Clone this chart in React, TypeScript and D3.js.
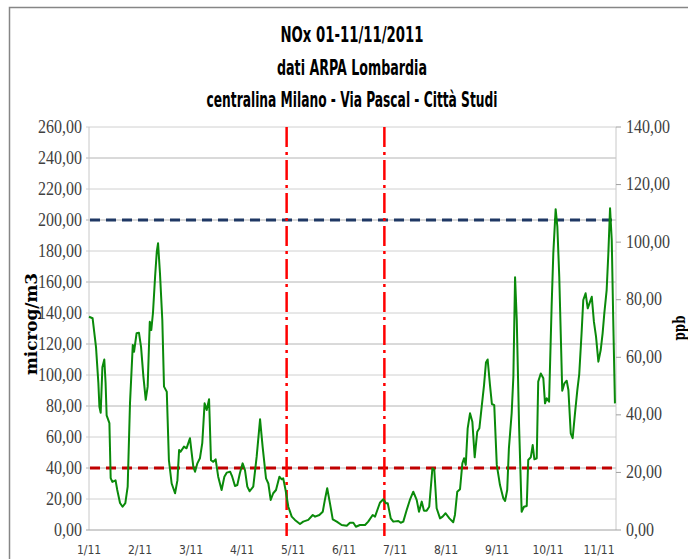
import React, { useEffect, useRef } from 'react';
import * as d3 from 'd3';

// hours from 01/11 00:00, NOx in microg/m3
const hours = [
  0, 1.7, 3.3, 4.4, 4.9, 5.5, 6.3, 7.2, 7.8, 8.3, 9.6, 10.2, 11, 12.5, 13.3, 14.6, 15.8, 17.1, 18.2, 19.3,
  20.6, 21.2, 22.4, 23.5, 24.5, 25.6, 26.7, 27.6, 28.6, 29.3, 30.1, 31.1, 31.9, 32.5, 33.4, 34.5, 35.3, 36.6, 37.6, 38.9,
  40.5, 41.6, 42.4, 43.1, 44.7, 45.9, 47.5, 49.1, 49.9, 51, 52.2, 53.3, 54.4, 55.4, 56.5, 57.4, 58.5, 59.6, 60.8, 62.4,
  63.7, 64.8, 66.4, 67.4, 68.7, 69.8, 71, 72.3, 73.4, 74.5, 75.6, 77.3, 78.9, 80.5, 81.7, 83.3, 84.4, 85.5, 86.7, 88,
  89.6, 90.7, 91.4, 92.5, 93.8, 95.4, 96.9, 99.3, 100.8, 103.2, 105.3, 106.4, 108.4, 110, 111, 112.1, 113.4, 114.7, 116.6, 118.9,
  121.3, 122.8, 124.4, 125.6, 127.5, 129.9, 131.4, 133.5, 134.6, 135.7, 136.9, 138.5, 139.8, 140.6, 142, 143.2, 145.6, 146.7, 147.9, 149.5,
  151, 152.6, 154.2, 155.3, 156.6, 157.6, 158.9, 160.1, 161.6, 162.5, 163.6, 165.2, 166.4, 167.8, 169.6, 171.4, 172.2, 173.3, 174.6, 175.7,
  176.5, 177.3, 178.2, 179.3, 180.4, 181.5, 182.7, 183.7, 184.8, 185.9, 186.8, 187.6, 188.7, 189.6, 190.7, 191.9, 193.4, 195, 195.8, 196.8,
  197.6, 198.9, 199.7, 200.5, 201.3, 202.4, 203.6, 204.7, 206, 206.7, 207.9, 208.8, 209.6, 210.7, 211.4, 212.6, 213.8, 214.6, 215.4, 216.5,
  217.7, 218.5, 219.6, 220.4, 221.3, 222.7, 223.7, 224.8, 225.6, 226.7, 227.6, 228.7, 229.8, 230.7, 231.8, 232.6, 233.7, 234.7, 235.8, 236.6,
  237.6, 238.6, 239.7, 240.8, 241.7, 242.5, 243.6, 244.4, 245.2, 246, 246.7, 247.5,
];
const nox = [
  137.6, 136.6, 118, 95, 79.5, 75.6, 105, 110, 95, 74, 69, 33.5, 31, 32, 25.8, 17.4, 15, 17.4, 28, 82,
  119.4, 115, 127, 127.3, 118, 99, 84, 92.5, 134.4, 129, 140, 163.4, 179.6, 185, 165.6, 135.5, 92.5, 89.2, 45, 30,
  23.7, 32, 51.6, 50.5, 53.8, 52.7, 59.2, 40.8, 37.6, 43, 46.3, 56, 81.7, 77.4, 84.3, 45, 44, 45.6, 34.4, 25.8,
  34.4, 37, 37.6, 34.4, 28.4, 29, 36.6, 43, 38.7, 28, 25, 28, 47.3, 71.4, 53.8, 33.3, 30, 19.4, 23.7, 25.8,
  34.4, 32.7, 33.3, 25.8, 15, 8.6, 6.5, 3.9, 5.4, 6.5, 9.7, 8.6, 9.7, 11.8, 19.4, 26.9, 17.2, 6.9, 5.4, 3.2,
  2.8, 4.7, 4.7, 2.1, 3.2, 3.2, 5.4, 9.7, 8.6, 12.9, 17.6, 19.8, 17.2, 17.2, 7.5, 5.4, 5.8, 4.7, 5.4, 12.9,
  19.4, 24.7, 19.4, 11.8, 18.3, 12.5, 12.5, 15, 39.8, 38.7, 14, 7.5, 8.6, 10.8, 7.5, 5, 9.7, 24.7, 26.3, 43,
  46.3, 42, 65.6, 75.3, 69.9, 46.9, 63.4, 65.6, 79.6, 93.5, 108, 110, 93.5, 81.3, 80.6, 42, 29, 20.4, 18.7, 25.8,
  52.7, 75.3, 98.9, 163, 135.5, 66.7, 11.8, 15, 15.5, 45.2, 46.9, 54.8, 45.6, 46.3, 95.7, 101, 97.9, 81.7, 85, 82.8,
  144, 178.5, 207, 195.7, 163.4, 89.9, 94.6, 96.3, 90.3, 62.4, 59.2, 75.3, 90.3, 100.6, 126.9, 148.4, 152.7, 143, 147.3, 150.5,
  134.4, 124.7, 108.6, 116.1, 126.9, 139.8, 154.8, 178.5, 207.6, 187, 135.5, 81.7,
];

const dayLabels = ['1/11', '2/11', '3/11', '4/11', '5/11', '6/11', '7/11', '8/11', '9/11', '10/11', '11/11'];
const leftTicks = [0, 20, 40, 60, 80, 100, 120, 140, 160, 180, 200, 220, 240, 260];
const rightTicks = [0, 20, 40, 60, 80, 100, 120, 140];
const limits = [200, 40]; // microg/m3 thresholds
const markerHours = [93, 139];
const titleLines = ['NOx 01-11/11/2011', 'dati ARPA Lombardia', 'centralina Milano - Via Pascal - Città Studi'];

const W = 688;
const H = 559;
const serif = "'Liberation Serif', 'Times New Roman', serif";
const narrow = "'Liberation Sans Narrow', 'DejaVu Sans Condensed', 'Liberation Sans', sans-serif";

const App: React.FC = () => {
  const svgRef = useRef<SVGSVGElement>(null);

  useEffect(() => {
    if (!svgRef.current) return;
    const svg = d3.select(svgRef.current);
    svg.selectAll('*').remove();

    const x = d3.scaleLinear().domain([0, 248]).range([89, 616]);
    const y = d3.scaleLinear().domain([0, 260]).range([530, 127]);
    const y2 = d3.scaleLinear().domain([0, 140]).range([530, 127]);

    svg.append('rect').attr('width', W).attr('height', H).attr('fill', '#fff');
    // outer chart frame (continues past the right/bottom edge)
    svg.append('rect')
      .attr('x', 9.5).attr('y', 7.5).attr('width', 720).attr('height', 600)
      .attr('fill', 'none').attr('stroke', '#868686').attr('stroke-width', 1.5);

    // title
    const tw = [143, 150, 291];
    svg.selectAll('.title')
      .data(titleLines)
      .enter()
      .append('text')
      .attr('x', 352)
      .attr('y', (_, i) => 42 + i * 32.5)
      .attr('text-anchor', 'middle')
      .attr('font-family', narrow)
      .attr('font-weight', 'bold')
      .attr('font-size', 22)
      .attr('textLength', (_, i) => tw[i])
      .attr('lengthAdjust', 'spacingAndGlyphs')
      .attr('fill', '#000')
      .text(d => d);

    // gridlines
    svg.selectAll('.grid')
      .data(leftTicks.slice(1))
      .enter()
      .append('line')
      .attr('x1', 86).attr('x2', 616)
      .attr('y1', d => y(d)).attr('y2', d => y(d))
      .attr('stroke', (_, i) => (i % 2 ? '#b4b4b4' : '#d0d0d0'))
      .attr('stroke-width', 1);

    // axes lines
    svg.append('line').attr('x1', 89).attr('x2', 89).attr('y1', 127).attr('y2', 530)
      .attr('stroke', '#c8c8c8');
    svg.append('line').attr('x1', 616).attr('x2', 616).attr('y1', 127).attr('y2', 530)
      .attr('stroke', '#c8c8c8');
    svg.append('line').attr('x1', 86).attr('x2', 616).attr('y1', 530).attr('y2', 530)
      .attr('stroke', '#a0a0a0');

    // right axis ticks
    svg.selectAll('.rtick')
      .data(rightTicks)
      .enter()
      .append('line')
      .attr('x1', 616).attr('x2', 621)
      .attr('y1', d => y2(d)).attr('y2', d => y2(d))
      .attr('stroke', '#a0a0a0');

    const fmt = (v: number) => d3.format('.2f')(v).replace('.', ',');

    svg.selectAll('.lt')
      .data(leftTicks)
      .enter()
      .append('text')
      .attr('transform', d => `translate(82,${y(d) + 5.5}) scale(1,1.12)`)
      .attr('text-anchor', 'end')
      .attr('font-family', serif)
      .attr('font-size', 16)
      .attr('fill', '#404040')
      .text(d => fmt(d));

    svg.selectAll('.rt')
      .data(rightTicks)
      .enter()
      .append('text')
      .attr('transform', d => `translate(626,${y2(d) + 5.5}) scale(1,1.12)`)
      .attr('text-anchor', 'start')
      .attr('font-family', serif)
      .attr('font-size', 16)
      .attr('fill', '#404040')
      .text(d => fmt(d));

    svg.selectAll('.xt')
      .data(dayLabels)
      .enter()
      .append('text')
      .attr('x', (_, i) => x(i * 24))
      .attr('y', 554)
      .attr('text-anchor', 'middle')
      .attr('font-family', narrow)
      .attr('font-size', 12)
      .attr('fill', '#404040')
      .text(d => d);

    // axis titles
    svg.append('text')
      .attr('transform', 'translate(37,324) rotate(-90)')
      .attr('text-anchor', 'middle')
      .attr('font-family', "'DejaVu Serif', serif")
      .attr('font-weight', 'bold')
      .attr('font-size', 16)
      .attr('textLength', 102)
      .attr('lengthAdjust', 'spacingAndGlyphs')
      .attr('fill', '#000')
      .text('microg/m3');
    svg.append('text')
      .attr('transform', 'translate(685,328) rotate(-90)')
      .attr('text-anchor', 'middle')
      .attr('font-family', "'DejaVu Serif', serif")
      .attr('font-weight', 'bold')
      .attr('font-size', 16)
      .attr('textLength', 25)
      .attr('lengthAdjust', 'spacingAndGlyphs')
      .attr('fill', '#000')
      .text('ppb');

    // limit lines
    svg.selectAll('.limit')
      .data(limits)
      .enter()
      .append('line')
      .attr('x1', 90).attr('x2', d => (d === 200 ? 616 : 612))
      .attr('y1', d => y(d)).attr('y2', d => y(d))
      .attr('stroke', d => (d === 200 ? '#1f3864' : '#c00000'))
      .attr('stroke-width', 3)
      .attr('stroke-dasharray', '10,6');

    // vertical markers
    svg.selectAll('.marker')
      .data(markerHours)
      .enter()
      .append('line')
      .attr('x1', d => x(d)).attr('x2', d => x(d))
      .attr('y1', 127).attr('y2', 536)
      .attr('stroke', '#ff0000')
      .attr('stroke-width', 2.5)
      .attr('stroke-dasharray', '20,5,3,5');

    // NOx series
    const pts = hours.map((h, i) => [h, nox[i]] as [number, number]);
    svg.append('path')
      .datum(pts)
      .attr('fill', 'none')
      .attr('stroke', '#0a8a0a')
      .attr('stroke-width', 2)
      .attr('stroke-linejoin', 'round')
      .attr('d', d3.line<[number, number]>().x(d => x(d[0])).y(d => y(d[1])));
  }, []);

  return (
    <svg
      ref={svgRef}
      width={W}
      height={H}
      viewBox={`0 0 ${W} ${H}`}
      style={{ position: 'absolute', left: 0, top: 0, display: 'block' }}
    />
  );
};

export default App;
